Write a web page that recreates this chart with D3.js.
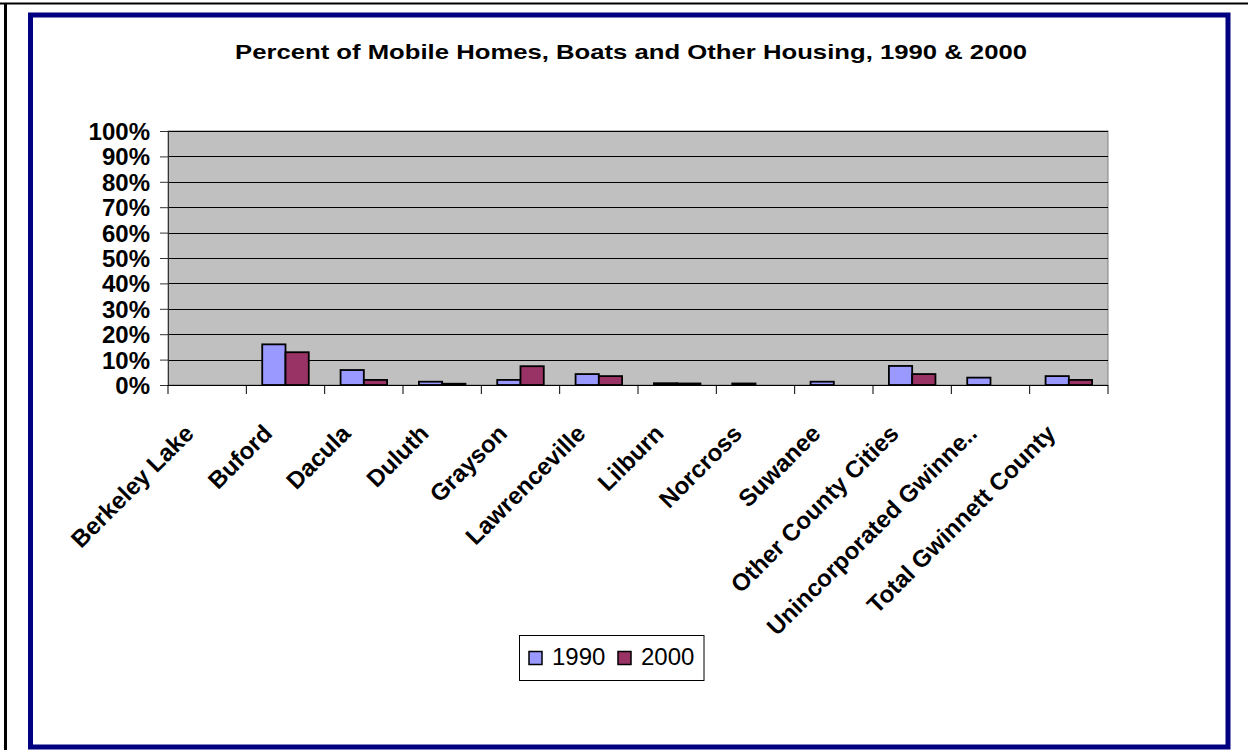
<!DOCTYPE html>
<html>
<head>
<meta charset="utf-8">
<script src="https://cdn.jsdelivr.net/npm/d3@7"></script>
<style>
  html, body { margin: 0; padding: 0; background: #fff; }
  svg { display: block; font-family: Arial, "Liberation Sans", sans-serif; }
</style>
</head>
<body>
<svg id="chart" width="1248" height="750"></svg>
<script>
// Share of housing units that are mobile homes, boats, RVs etc. (percent)
const categories = ["Berkeley Lake", "Buford", "Dacula", "Duluth", "Grayson", "Lawrenceville",
  "Lilburn", "Norcross", "Suwanee", "Other County Cities", "Unincorporated Gwinne..", "Total Gwinnett County"];
const seriesNames = ["1990", "2000"];
const values1990 = [0, 16.0, 5.9, 1.3, 2.0, 4.3, 0.7, 0.6, 1.3, 7.5, 2.9, 3.5];
const values2000 = [0, 12.9, 2.0, 0.5, 7.4, 3.5, 0.6, 0, 0, 4.3, 0, 2.0];
const yTicks = [0, 10, 20, 30, 40, 50, 60, 70, 80, 90, 100];
const colors = ["#9999FF", "#993366"];
const title = "Percent of Mobile Homes, Boats and Other Housing, 1990 & 2000";

const svg = d3.select("#chart");

// outer page frame lines
svg.append("line").attr("x1", 0).attr("x2", 1248).attr("y1", 3.5).attr("y2", 3.5)
  .attr("stroke", "#000").attr("stroke-width", 2);
svg.append("line").attr("x1", 5.5).attr("x2", 5.5).attr("y1", 3).attr("y2", 750)
  .attr("stroke", "#000").attr("stroke-width", 3);

// navy chart border
svg.append("rect").attr("x", 30.5).attr("y", 15).attr("width", 1197.5).attr("height", 732)
  .attr("fill", "#fff").attr("stroke", "#000080").attr("stroke-width", 5);

// title
svg.append("text").attr("x", 631).attr("y", 58.5).attr("text-anchor", "middle")
  .attr("font-size", 21).attr("font-weight", "bold").attr("fill", "#000")
  .attr("textLength", 792).attr("lengthAdjust", "spacingAndGlyphs")
  .text(title);

const plot = { left: 168, right: 1108, top: 131, bottom: 385 };

const x = d3.scaleBand().domain(categories).range([plot.left, plot.right])
  .paddingInner(0.406).paddingOuter(0.203);
const xs = d3.scaleBand().domain(seriesNames).range([0, x.bandwidth()]);
const y = d3.scaleLinear().domain([0, 100]).range([plot.bottom, plot.top]);

// plot area
svg.append("rect").attr("x", plot.left).attr("y", plot.top)
  .attr("width", plot.right - plot.left).attr("height", plot.bottom - plot.top)
  .attr("fill", "#C0C0C0").attr("stroke", "#808080").attr("stroke-width", 1);

// gridlines
svg.append("g").selectAll("line").data(yTicks.filter(d => d > 0)).join("line")
  .attr("x1", plot.left).attr("x2", plot.right)
  .attr("y1", d => Math.round(y(d)) + 0.5).attr("y2", d => Math.round(y(d)) + 0.5)
  .attr("stroke", "#000").attr("stroke-width", 1);

// bars
const rows = categories.map((c, i) => ({ cat: c, vals: [values1990[i], values2000[i]] }));
const groups = svg.append("g").selectAll("g").data(rows).join("g")
  .attr("transform", d => `translate(${x(d.cat)},0)`);
groups.selectAll("rect").data(d => d.vals.map((v, j) => ({ v, s: seriesNames[j], j })))
  .join("rect")
  .filter(d => d.v > 0)
  .attr("x", d => xs(d.s))
  .attr("y", d => y(d.v))
  .attr("width", xs.bandwidth())
  .attr("height", d => y(0) - y(d.v))
  .attr("fill", d => colors[d.j])
  .attr("stroke", "#000").attr("stroke-width", 1.8);

// y axis
const yAxis = d3.axisLeft(y).tickValues(yTicks).tickSize(8).tickFormat(d => d + "%");
const gy = svg.append("g").attr("transform", `translate(${plot.left},0)`).call(yAxis);
gy.select(".domain").attr("stroke", "#333");
gy.selectAll(".tick line").attr("stroke", "#333");
gy.selectAll(".tick text").attr("x", -18).attr("dy", "0.35em")
  .attr("font-size", 24).attr("font-weight", "bold").attr("fill", "#000")
  .attr("font-family", "Arial, 'Liberation Sans', sans-serif");

// x axis: ticks at category boundaries
const gx = svg.append("g").attr("transform", `translate(0,${plot.bottom})`);
gx.append("line").attr("x1", plot.left).attr("x2", plot.right).attr("y1", 0.5).attr("y2", 0.5)
  .attr("stroke", "#000");
const step = x.step();
const boundaries = d3.range(categories.length + 1).map(i => plot.left + i * step);
gx.selectAll("line.tk").data(boundaries).join("line").attr("class", "tk")
  .attr("x1", d => d).attr("x2", d => d).attr("y1", 0).attr("y2", 9)
  .attr("stroke", "#000");

// rotated category labels
gx.selectAll("text").data(categories).join("text")
  .attr("transform", d => `translate(${x(d) + x.bandwidth() / 2 - 12},50) rotate(-45)`)
  .attr("text-anchor", "end")
  .attr("font-size", 24).attr("font-weight", "bold").attr("fill", "#000")
  .text(d => d);

// legend
const lg = svg.append("g");
lg.append("rect").attr("x", 519.5).attr("y", 635.5).attr("width", 184.5).attr("height", 45)
  .attr("fill", "#fff").attr("stroke", "#000").attr("stroke-width", 1);
const legendX = [529, 618];
seriesNames.forEach((s, j) => {
  lg.append("rect").attr("x", legendX[j]).attr("y", 651.5).attr("width", 13).attr("height", 13)
    .attr("fill", colors[j]).attr("stroke", "#000").attr("stroke-width", 1.5);
  lg.append("text").attr("x", legendX[j] + 23).attr("y", 665)
    .attr("font-size", 24).attr("fill", "#000").text(s);
});
</script>
</body>
</html>
